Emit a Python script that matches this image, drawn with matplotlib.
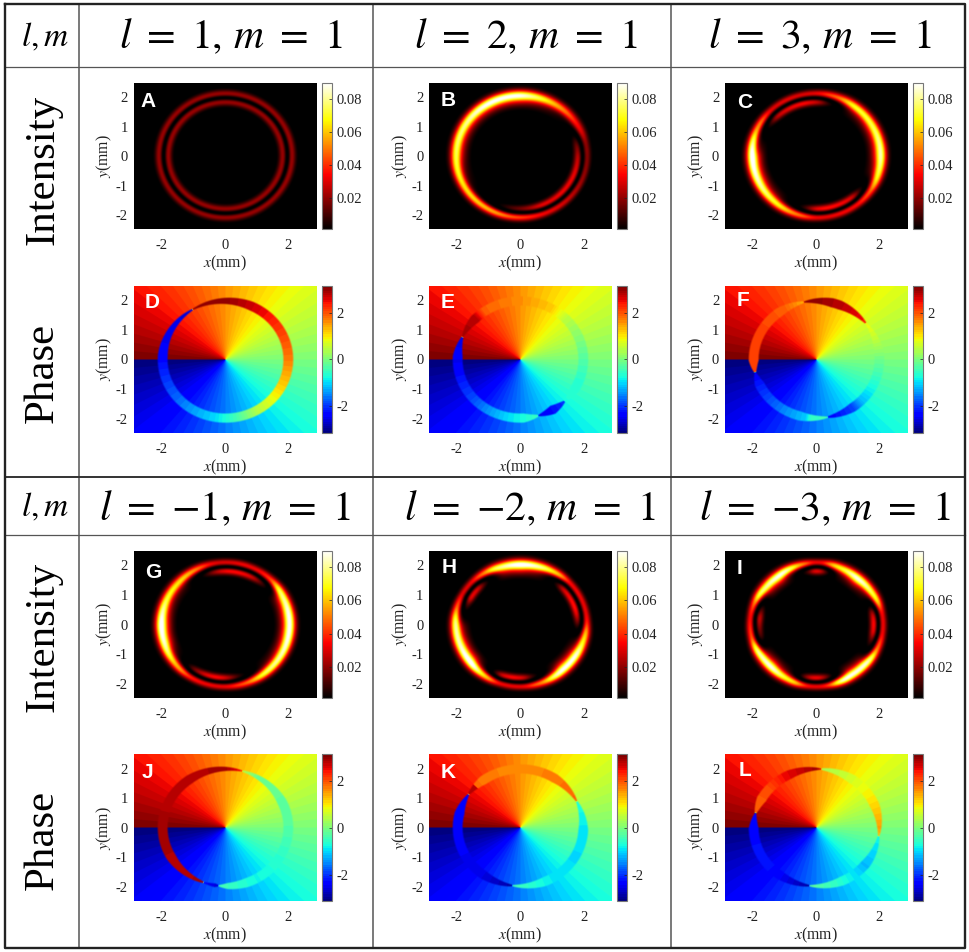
import numpy as np
import matplotlib
matplotlib.use("Agg")
import matplotlib.pyplot as plt
from matplotlib.cm import ScalarMappable
from matplotlib.colors import Normalize, ListedColormap, LinearSegmentedColormap

plt.rcParams['font.family'] = ['Liberation Serif', 'DejaVu Serif']
plt.rcParams['axes.unicode_minus'] = False
plt.rcParams['mathtext.fontset'] = 'stix'

W, H = 969, 952
HEADERS_TOP = [r"$l\ =\ 1,\,m\ =\ 1$", r"$l\ =\ 2,\,m\ =\ 1$", r"$l\ =\ 3,\,m\ =\ 1$"]
HEADERS_BOT = [r"$l\ =\ {-}1,\,m\ =\ 1$", r"$l\ =\ {-}2,\,m\ =\ 1$", r"$l\ =\ {-}3,\,m\ =\ 1$"]
LETTERS_I = ["A", "B", "C", "G", "H", "I"]
LETTERS_P = ["D", "E", "F", "J", "K", "L"]
X_TICKS = [-2, 0, 2]
Y_TICKS = [-2, -1, 0, 1, 2]
INT_TICKS = [0.02, 0.04, 0.06, 0.08]
PHASE_TICKS = [-2, 0, 2]

# Intensity: angle (deg), signed peak of merged ring, peak of split lobes
A_ANG = [-180, 0, 180]
A_PK = [0, 0, 0]
A_LB = [.021, .021, .021]
B_ANG = [-150, -120, -100, -70, -45, -20, 0, 15, 30, 60, 90, 120, 150, 180]
B_PK = [.05, .03, .012, .001, -.002, -.004, -.003, .004, .025, .055, .085, .085, .075, .07]
B_LB = [.006, .014, .025, .032, .03, .026, .022, .016, .006, .003, .002, .002, .002, .002]
C_ANG = [-155, -130, -110, -95, -85, -70, -50, -35, -20, 0, 30, 55, 70, 85, 100, 115, 135, 155, 180]
C_PK = [.08, .06, .025, .004, -.002, -.001, .002, .02, .06, .08, .07, .06, .025, .004, -.002, -.001, .002, .03, .09]
C_LB = [.002, .004, .014, .03, .034, .034, .032, .014, .004, .002, .002, .004, .012, .028, .032, .032, .028, .012, .002]
G_ANG = [-160, -140, -125, -110, -98, -85, -70, -50, -30, -10, 10, 30, 45, 60, 75, 90, 105, 120, 135, 155, 180]
G_PK = [.08, .04, .008, .001, -.002, .004, .02, .06, .075, .085, .085, .07, .015, .002, -.001, -.002, .006, .03, .055, .065, .09]
G_LB = [.002, .008, .025, .032, .034, .028, .016, .006, .003, .002, .002, .003, .018, .03, .034, .032, .024, .012, .004, .003, .002]
H_ANG = [-160, -140, -125, -112, -98, -85, -70, -50, -30, -15, 0, 15, 30, 45, 60, 72, 90, 110, 122, 135, 150, 165, 180]
H_PK = [.08, .09, .04, .003, -.002, .002, .025, .085, .08, .05, .008, -.002, -.001, .003, .04, .07, .09, .07, .025, .002, -.002, .02, .07]
H_LB = [.002, .002, .01, .03, .034, .03, .014, .002, .003, .006, .024, .034, .034, .03, .01, .004, .002, .003, .014, .03, .032, .016, .004]
I_ANG = [-165, -150, -135, -115, -102, -90, -78, -60, -40, -25, -10, 2, 15, 30, 50, 70, 82, 92, 105, 125, 145, 160, 172]
I_PK = [.012, .07, .085, .05, .006, -.002, .008, .08, .075, .02, .001, -.002, .005, .055, .085, .05, .004, -.002, .025, .085, .07, .015, .001]
I_LB = [.024, .004, .002, .006, .028, .034, .026, .003, .004, .018, .032, .034, .028, .006, .002, .006, .028, .034, .016, .002, .003, .02, .032]

# Ring phase: angle (deg), phase (rad), crescent tips and their lengths (deg)
D_ANG = [-180, -140, -100, -80, -60, -30, 0, 20, 60, 90, 121, 122, 150, 180]
D_PHI = [-2.3, -1.7, -1.0, -.4, .4, 1.1, 1.7, 2.0, 2.6, 3.0, 3.0, -2.6, -2.5, -2.4]
D_TIP = [121]
D_LEN = [55]
E_ANG = [-180, -140, -100, -74, -73, -46, -45, -20, 0, 30, 45, 60, 90, 125, 135, 157, 158, 180]
E_PHI = [-2.5, -1.9, -.95, -.5, -2.5, -2.0, -.7, -.6, -.3, .2, .5, 1.2, 1.6, 1.9, 2.8, 2.9, -2.5, -2.4]
E_TIP = [-73, -45, 157]
E_LEN = [14, 14, 20]
F_ANG = [-180, -168, -167, -140, -100, -96, -80, -79, -55, -45, -30, 0, 20, 38, 39, 60, 90, 101, 102, 120, 150, 180]
F_PHI = [2.1, 2.1, -2.4, -1.9, -1.1, -.6, -.4, -2.4, -1.9, -1.2, -.8, -.1, .5, .9, 2.4, 2.7, 3.0, 3.0, 1.4, 1.9, 2.1, 2.1]
F_TIP = [-167, -80, 38, 101]
F_LEN = [12, 25, 30, 25]
J_ANG = [-180, -130, -111, -110, -97, -96, -60, -30, 0, 30, 60, 74, 75, 90, 120, 150, 180]
J_PHI = [2.9, 2.8, 2.9, -2.4, -2.6, -.4, -.8, -.6, -.3, -.2, -.1, .4, 2.4, 2.9, 2.8, 2.8, 2.9]
J_TIP = [-110, -96, 75]
J_LEN = [40, 15, 50]
K_ANG = [-180, -130, -98, -97, -60, -30, 0, 26, 27, 60, 90, 120, 135, 136, 145, 146, 180]
K_PHI = [-2.4, -2.5, -2.9, -.4, -.9, -1.0, -.9, -.7, 1.9, 1.7, 1.6, 1.7, 1.8, 2.8, 2.8, -2.4, -2.4]
K_TIP = [-97, 27, 146]
K_LEN = [30, 30, 20]
L_ANG = [-180, -140, -120, -97, -96, -70, -40, -9, -8, 0, 30, 60, 85, 86, 90, 120, 140, 165, 166, 180]
L_PHI = [-2.3, -2.2, -2.5, -2.9, -.2, -.6, -1.2, -.8, 1.3, 1.5, 1.0, .6, .3, 2.6, 2.9, 2.5, 2.0, 1.9, -2.4, -2.3]
L_TIP = [-96, -8, 86, 166]
L_LEN = [30, 30, 30, 15]

INTENSITY = [(A_ANG, A_PK, A_LB), (B_ANG, B_PK, B_LB), (C_ANG, C_PK, C_LB),
             (G_ANG, G_PK, G_LB), (H_ANG, H_PK, H_LB), (I_ANG, I_PK, I_LB)]
PHASE = [(D_ANG, D_PHI, D_TIP, D_LEN), (E_ANG, E_PHI, E_TIP, E_LEN), (F_ANG, F_PHI, F_TIP, F_LEN),
         (J_ANG, J_PHI, J_TIP, J_LEN), (K_ANG, K_PHI, K_TIP, K_LEN), (L_ANG, L_PHI, L_TIP, L_LEN)]

XLIM, YLIM = 2.88, 2.48
nx, ny = 732, 588
xs = np.linspace(-XLIM, XLIM, nx)
ys = np.linspace(YLIM, -YLIM, ny)
X, Y = np.meshgrid(xs, ys)
R = np.hypot(X, Y)
TH = np.degrees(np.arctan2(Y, X))

hot = LinearSegmentedColormap.from_list(
    "mhot", [(0, "#000000"), (.375, "#ff0000"), (.75, "#ffff00"), (1, "#ffffff")], 256)
jet = ListedColormap(plt.get_cmap("jet")(np.linspace(0, 1, 64)))
INT_NORM = Normalize(0.0014, 0.0894)
PHI_NORM = Normalize(-np.pi, np.pi)


def periodic(ang, vals, sigma=3.5):
    grid = np.arange(-180, 180, 0.5)
    y = np.interp(grid, np.asarray(ang, float), np.asarray(vals, float), period=360)
    k = np.arange(-40, 41) * 0.5
    g = np.exp(-k ** 2 / (2 * sigma ** 2))
    g /= g.sum()
    y = np.convolve(np.r_[y[-40:], y, y[:40]], g, mode="valid")
    return grid, y


def intensity(ang, pk, lb, r0=1.95, w=0.15, s=1.5):
    grid, p = periodic(ang, pk)
    grid, l = periodic(ang, lb)
    P = np.interp(TH, grid, p, period=360)
    L = np.interp(TH, grid, l, period=360)
    # small merged amplitudes only tilt the two lobes slightly
    a = 1.06 * np.sign(P) * np.sqrt(np.abs(P)) * np.abs(P) / (np.abs(P) + 0.008)
    b = np.sqrt(np.maximum(L, 0) * np.e)
    x = (R - r0) / w
    return (a * np.exp(-x ** 2 / (2 * s ** 2)) + b * x * np.exp(-x ** 2 / 2)) ** 2


def phase_rgba(ang, phi, tips, lens, rc=1.98, half=0.155):
    out = jet(PHI_NORM(np.arctan2(Y, X)))
    ring = np.interp(TH, ang, phi)
    taper = np.ones_like(TH)
    for t, n in zip(tips, lens):
        d = np.abs((TH - t + 180) % 360 - 180)
        taper = np.minimum(taper, 0.12 + 0.88 * np.clip(d / n, 0, 1) ** 0.8)
    hw = half * taper
    m = np.clip((hw - np.abs(R - rc)) / 0.06 + .5, 0, 1)[..., None]
    return out * (1 - m) + jet(PHI_NORM(ring)) * m


fig = plt.figure(figsize=(W / 100, H / 100), dpi=100, facecolor="white")


def ax_px(x0, y0, x1, y1):
    return fig.add_axes([x0 / W, 1 - y1 / H, (x1 - x0) / W, (y1 - y0) / H])


bg = fig.add_axes([0, 0, 1, 1])
bg.set_xlim(0, W)
bg.set_ylim(H, 0)
bg.axis("off")

LINE_INNER = "#555555"
for xv in (79, 372.7, 671.5):
    bg.plot([xv, xv], [4, 948], color=LINE_INNER, lw=1.1, solid_capstyle="butt")
for yv, lw in ((67, 0.9), (477, 1.4), (535, 0.9)):
    bg.plot([5, 965], [yv, yv], color=LINE_INNER if lw < 1 else "#333333", lw=lw)
bg.plot([5, 965, 965, 5, 5], [4, 4, 948, 948, 4], color="#222222", lw=1.7)

for t, cx in zip(HEADERS_TOP, (231, 526, 820)):
    bg.text(cx, 37, t, fontsize=30, ha="center", va="center")
for t, cx in zip(HEADERS_BOT, (225, 530, 825)):
    bg.text(cx, 509, t, fontsize=30, ha="center", va="center")
bg.text(45, 37, r"$l,m$", fontsize=24, ha="center", va="center")
bg.text(45, 507, r"$l,m$", fontsize=24, ha="center", va="center")
for cy, lab in ((170, "Intensity"), (373, "Phase"), (637, "Intensity"), (840, "Phase")):
    bg.text(43, cy, lab, fontsize=31, rotation=90, ha="center", va="center")

COL_X = [(133.5, 316, 322, 332), (429, 611.7, 617.3, 627.3), (724.7, 907.3, 912.7, 923)]
ROW_I = [(83, 229.3), (551, 698)]
ROW_P = [(286, 433), (754.3, 901.3)]
LET_I_XY = [(148, 101.7), (448, 101), (745, 102.7), (153, 572), (449, 567.7), (740, 568)]
LET_P_XY = [(152, 303), (448, 303), (743, 300), (147, 773), (448, 772), (745, 771)]


def style(ax):
    ax.set_xlim(-XLIM, XLIM)
    ax.set_ylim(-YLIM, YLIM)
    ax.set_xticks(X_TICKS)
    ax.set_yticks(Y_TICKS)
    ax.tick_params(axis="x", length=0, labelsize=10.5, pad=7, colors="#222222")
    ax.tick_params(axis="y", length=0, labelsize=10.5, pad=4, colors="#222222")
    ax.set_xlabel(r"$x$(mm)", fontsize=11.3, labelpad=1.5, color="#222222")
    ax.set_ylabel(r"$y$(mm)", fontsize=11.3, labelpad=1, color="#222222")
    for s in ax.spines.values():
        s.set_visible(False)


def colorbar(x0, y0, x1, y1, cmap, norm, ticks, fmt):
    cax = ax_px(x0, y0, x1, y1)
    cb = fig.colorbar(ScalarMappable(norm=norm, cmap=cmap), cax=cax, ticks=ticks, format=fmt)
    cax.tick_params(length=2, width=0.5, direction="in", labelsize=10.5, pad=3, colors="#222222")
    cax.yaxis.set_ticks_position("right")
    cb.outline.set_edgecolor("#777777")
    cb.outline.set_linewidth(0.8)


for i in range(6):
    c = i % 3
    r = i // 3
    x0, x1, cx0, cx1 = COL_X[c]
    y0, y1 = ROW_I[r]
    ax = ax_px(x0, y0, x1, y1)
    ang, pk, lb = INTENSITY[i]
    ax.imshow(intensity(ang, pk, lb), extent=(-XLIM, XLIM, -YLIM, YLIM), cmap=hot, norm=INT_NORM,
              aspect="auto", interpolation="bilinear")
    style(ax)
    colorbar(cx0, y0, cx1, y1, hot, INT_NORM, INT_TICKS, lambda v, _: f"{v:.2f}")
    bg.text(*LET_I_XY[i], LETTERS_I[i], color="white", fontsize=15, fontweight="bold",
            family="Liberation Sans", ha="center", va="center", zorder=20)

    y0, y1 = ROW_P[r]
    ax = ax_px(x0, y0, x1, y1)
    ang, phi, tips, lens = PHASE[i]
    ax.imshow(phase_rgba(ang, phi, tips, lens), extent=(-XLIM, XLIM, -YLIM, YLIM),
              aspect="auto", interpolation="antialiased")
    style(ax)
    colorbar(cx0, y0, cx1, y1, jet, PHI_NORM, PHASE_TICKS, lambda v, _: f"{v:.0f}")
    bg.text(*LET_P_XY[i], LETTERS_P[i], color="white", fontsize=15, fontweight="bold",
            family="Liberation Sans", ha="center", va="center", zorder=20)

bg.set_zorder(10)
bg.patch.set_visible(False)
fig.savefig("out.png", dpi=100)
